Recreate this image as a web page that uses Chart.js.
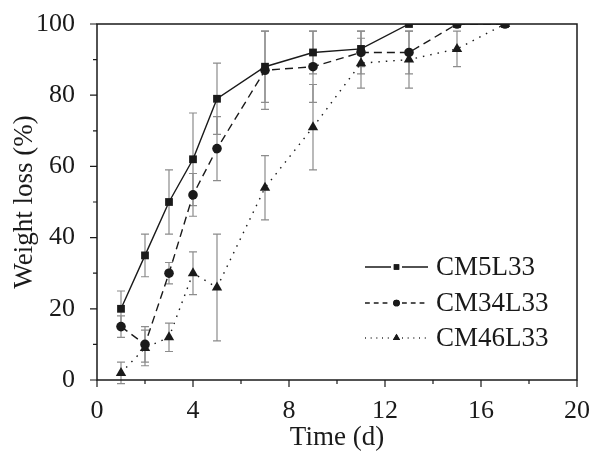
<!DOCTYPE html>
<html>
<head>
<meta charset="utf-8">
<script src="https://cdn.jsdelivr.net/npm/chart.js@4.4.0/dist/chart.umd.min.js"></script>
<style>
  html, body { margin: 0; padding: 0; background: #fff; }
</style>
</head>
<body>
<canvas id="weightLossChart" width="593" height="461"></canvas>
<script>
// days of degradation
var days = [1, 2, 3, 4, 5, 7, 9, 11, 13, 15, 17];

var cm5l33 = [20, 35, 50, 62, 79, 88, 92, 93, 100, 100, 100];
var cm5l33Err = [5, 6, 9, 13, 10, 10, 6, 5, 0, 0, 0];

var cm34l33 = [15, 10, 30, 52, 65, 87, 88, 92, 92, 100, 100];
var cm34l33Err = [3, 5, 3, 6, 9, 11, 10, 6, 6, 0, 0];

var cm46l33 = [2, 9, 12, 30, 26, 54, 71, 89, 90, 93, 100];
var cm46l33Err = [3, 5, 4, 6, 15, 9, 12, 7, 8, 5, 0];

var xTickLabels = [0, 4, 8, 12, 16, 20];
var yTickLabels = [0, 20, 40, 60, 80, 100];

var ink = '#1a1a1a';
var serif = '"Liberation Serif", "Times New Roman", serif';

var toPoints = function(values) {
  return values.map(function(v, i) { return { x: days[i], y: v }; });
};

var series = [
  { label: 'CM5L33', data: cm5l33, err: cm5l33Err, dash: [], style: 'rect', r: 5.5 },
  { label: 'CM34L33', data: cm34l33, err: cm34l33Err, dash: [8, 5], style: 'circle', r: 4.8 },
  { label: 'CM46L33', data: cm46l33, err: cm46l33Err, dash: [1.5, 6], style: 'triangle', r: 6 }
];

var errorBars = {
  id: 'errorBars',
  beforeDatasetsDraw: function(chart) {
    var ctx = chart.ctx, xs = chart.scales.x, ys = chart.scales.y;
    ctx.save();
    ctx.strokeStyle = '#8c8c8c';
    ctx.lineWidth = 1.2;
    series.forEach(function(s) {
      s.data.forEach(function(v, i) {
        var e = s.err[i];
        if (!e) return;
        var px = xs.getPixelForValue(days[i]);
        var top = ys.getPixelForValue(Math.min(v + e, 100));
        var bot = ys.getPixelForValue(v - e);
        ctx.beginPath();
        ctx.moveTo(px, top); ctx.lineTo(px, bot);
        ctx.moveTo(px - 4, top); ctx.lineTo(px + 4, top);
        ctx.moveTo(px - 4, bot); ctx.lineTo(px + 4, bot);
        ctx.stroke();
      });
    });
    ctx.restore();
  }
};

// frame, outward ticks and the legend inside the plot
var frameAndLegend = {
  id: 'frameAndLegend',
  afterDraw: function(chart) {
    var ctx = chart.ctx, a = chart.chartArea, xs = chart.scales.x, ys = chart.scales.y;
    ctx.save();
    ctx.strokeStyle = ink;
    ctx.lineWidth = 1.5;
    ctx.strokeRect(a.left, a.top, a.right - a.left, a.bottom - a.top);

    ctx.lineWidth = 1.2;
    ctx.beginPath();
    for (var t = 0; t <= 20; t += 2) {
      var px = xs.getPixelForValue(t);
      ctx.moveTo(px, a.bottom);
      ctx.lineTo(px, a.bottom + (t % 4 === 0 ? 7 : 4));
    }
    for (var v = 0; v <= 100; v += 10) {
      var py = ys.getPixelForValue(v);
      ctx.moveTo(a.left, py);
      ctx.lineTo(a.left - (v % 20 === 0 ? 7 : 4), py);
    }
    ctx.stroke();

    var rowY = [267, 303, 338];
    ctx.font = '27px ' + serif;
    ctx.textBaseline = 'middle';
    ctx.fillStyle = ink;
    series.forEach(function(s, i) {
      var y = rowY[i];
      ctx.setLineDash(s.dash.length ? [s.dash[0] * 0.6, s.dash[1] * 0.8] : []);
      ctx.lineWidth = 1.3;
      ctx.beginPath();
      ctx.moveTo(365, y); ctx.lineTo(391, y);
      ctx.moveTo(402, y); ctx.lineTo(428, y);
      ctx.stroke();
      ctx.setLineDash([]);
      Chart.helpers.drawPoint(ctx, { pointStyle: s.style, radius: s.r * 0.7, borderWidth: 0 }, 396.5, y);
      ctx.fill();
      ctx.fillText(s.label, 436, y + 1);
    });
    ctx.restore();
  }
};

new Chart(document.getElementById('weightLossChart').getContext('2d'), {
  type: 'line',
  data: {
    datasets: series.map(function(s) {
      return {
        label: s.label,
        data: toPoints(s.data),
        borderColor: ink,
        backgroundColor: ink,
        borderWidth: 1.4,
        borderDash: s.dash,
        pointStyle: s.style,
        pointRadius: s.r,
        pointBorderWidth: 0,
        pointBackgroundColor: ink,
        tension: 0,
        clip: 0
      };
    })
  },
  options: {
    responsive: false,
    animation: false,
    devicePixelRatio: 1,
    layout: { padding: { left: 0, top: 24, right: 16, bottom: 0 } },
    plugins: { legend: { display: false }, tooltip: { enabled: false } },
    scales: {
      x: {
        type: 'linear', min: 0, max: 20,
        grid: { display: false },
        border: { display: false },
        afterFit: function(scale) {
          scale.height = 81;
          scale.paddingLeft = 0;
          scale.paddingRight = 0;
        },
        ticks: {
          stepSize: 4, padding: 8, color: ink, maxRotation: 0,
          font: { family: serif, size: 26 },
          callback: function(v) { return xTickLabels.indexOf(v) >= 0 ? String(v) : ''; }
        },
        title: {
          display: true, text: 'Time (d)', color: ink,
          font: { family: serif, size: 27 }, padding: { top: 0, bottom: 7 }
        }
      },
      y: {
        min: 0, max: 100,
        grid: { display: false },
        border: { display: false },
        afterFit: function(scale) {
          scale.width = 97;
          scale.paddingTop = 0;
          scale.paddingBottom = 0;
        },
        ticks: {
          stepSize: 20, padding: 14, color: ink,
          font: { family: serif, size: 26 },
          callback: function(v) { return yTickLabels.indexOf(v) >= 0 ? String(v) : ''; }
        },
        title: {
          display: true, text: 'Weight loss (%)', color: ink,
          font: { family: serif, size: 27 }, padding: { top: 9, bottom: 0 }
        }
      }
    }
  },
  plugins: [errorBars, frameAndLegend]
});
</script>
</body>
</html>
